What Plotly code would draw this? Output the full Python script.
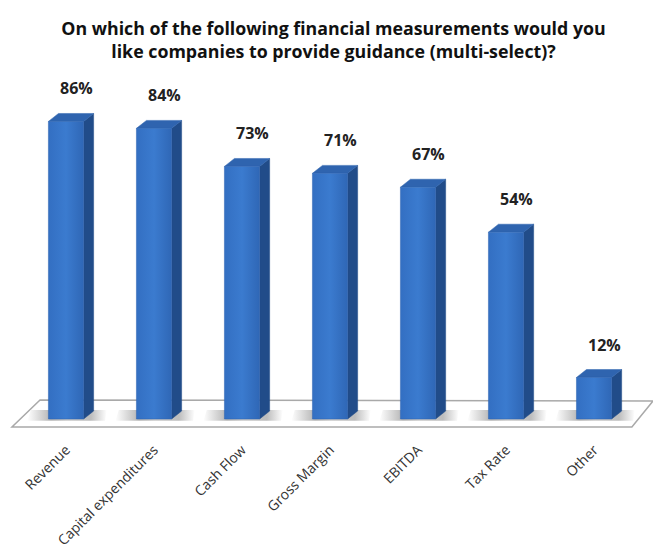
import plotly.graph_objects as go

# Survey responses
categories = ["Revenue", "Capital expenditures", "Cash Flow", "Gross Margin",
              "EBITDA", "Tax Rate", "Other"]
percent = [86, 84, 73, 71, 67, 54, 12]

W, H = 653, 560
BAR_W = 0.40          # front face width in category units
DEPTH_X = 0.114       # pseudo-3D depth offset (x, category units)
DEPTH_Y = 2.3         # pseudo-3D depth offset (y, percent units)
X_RANGE = [-0.75, 6.67]
Y_RANGE = [-3.76, 121.1]

FRONT = [[0, "#336fc2"], [0.5, "#3b7bcf"], [1, "#2f67b6"]]
SIDE = "#214c89"
TOP = "#2f64af"
SHADOW = [[0, "#ffffff"], [0.3, "#b4b4b4"], [0.5, "#c8c8c8"],
          [0.8, "#bdbdbd"], [1, "#ffffff"]]

fig = go.Figure()
xs = list(range(len(categories)))

for x, v in zip(xs, percent):
    l, r = x - BAR_W / 2, x + BAR_W / 2
    # soft shadow cast on the floor
    fig.add_trace(go.Scatter(
        x=[l - 0.24, r + DEPTH_X + 0.13, r + DEPTH_X + 0.15, l - 0.2, l - 0.24],
        y=[-0.5, -0.5, DEPTH_Y + 0.3, DEPTH_Y + 0.3, -0.5],
        mode="lines", fill="toself",
        fillgradient=dict(type="horizontal", colorscale=SHADOW),
        line=dict(width=0), hoverinfo="skip", showlegend=False))
    # right-hand side face
    fig.add_trace(go.Scatter(
        x=[r, r + DEPTH_X, r + DEPTH_X, r, r],
        y=[0, DEPTH_Y, v + DEPTH_Y, v, 0],
        mode="lines", fill="toself", fillcolor=SIDE,
        line=dict(color=SIDE, width=0.5), hoverinfo="skip", showlegend=False))
    # top face
    fig.add_trace(go.Scatter(
        x=[l, l + DEPTH_X, r + DEPTH_X, r, l],
        y=[v, v + DEPTH_Y, v + DEPTH_Y, v, v],
        mode="lines", fill="toself", fillcolor=TOP,
        line=dict(color=TOP, width=0.5), hoverinfo="skip", showlegend=False))
    # front face
    fig.add_trace(go.Scatter(
        x=[l, r, r, l, l], y=[0, 0, v, v, 0],
        mode="lines", fill="toself",
        fillgradient=dict(type="horizontal", colorscale=FRONT),
        line=dict(color="#2d62b0", width=0.5),
        name=categories[x], hovertemplate="%{fullData.name}: " + f"{v}%<extra></extra>",
        showlegend=False))
    # value label
    fig.add_annotation(x=x + DEPTH_X, y=v + DEPTH_Y, text=f"<b>{v}%</b>",
                       showarrow=False, yanchor="bottom", yshift=12,
                       font=dict(family="Open Sans", size=16, color="#222222"))

# floor plane under the bars
fig.add_shape(type="path", xref="x", yref="y", layer="below",
              path="M -0.614,-2.31 L 6.43,-2.31 L 6.67,5.2 L -0.295,5.49 Z",
              fillcolor="white", line=dict(color="#a9a9a9", width=1.5))

fig.update_layout(
    width=W, height=H,
    margin=dict(l=0, r=0, t=0, b=128),
    paper_bgcolor="white", plot_bgcolor="white",
    title=dict(
        text="On which of the following financial measurements would you<br>"
             "like companies to provide guidance (multi-select)?",
        x=0.5 + 7 / W, xanchor="center", y=1 - 35 / H, yanchor="middle",
        font=dict(family="Open Sans", size=17.8, color="#111111", weight="bold")),
    xaxis=dict(range=X_RANGE, tickvals=xs, ticktext=categories, tickangle=-45,
               showgrid=False, zeroline=False, showline=False, ticks="",
               ticklabelstandoff=6,
               tickfont=dict(family="Open Sans", size=14, color="#333333"),
               fixedrange=True),
    yaxis=dict(range=Y_RANGE, visible=False, fixedrange=True),
    showlegend=False,
)

fig.write_html("out.html")
